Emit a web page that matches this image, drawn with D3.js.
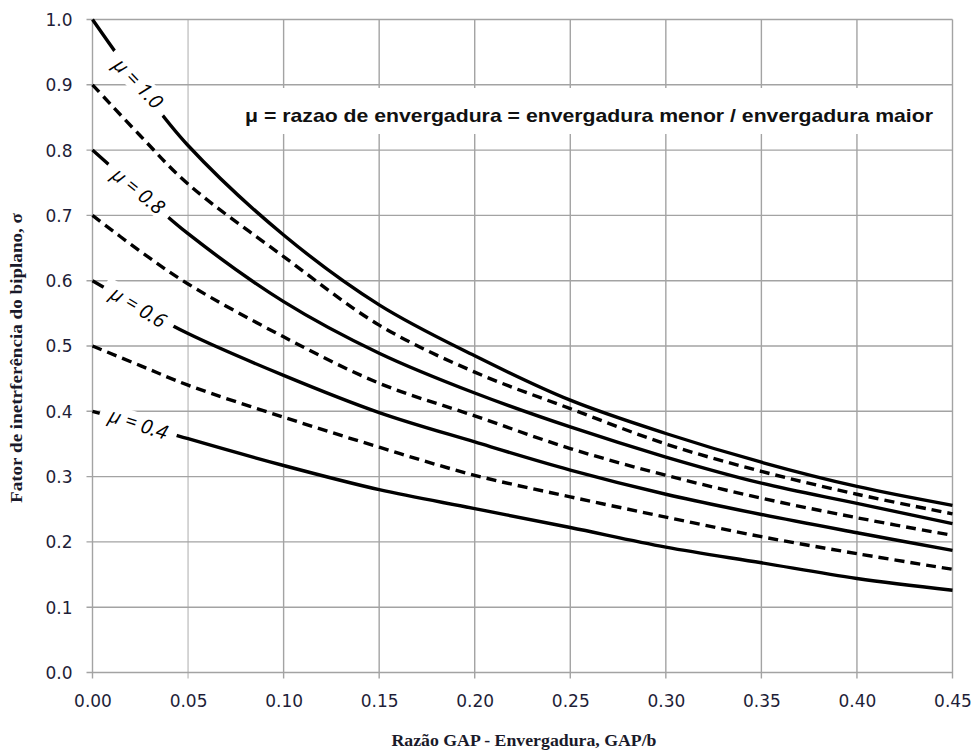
<!DOCTYPE html>
<html>
  <head>
    <meta charset="utf-8">
    <title>Fator de interferencia do biplano</title>
    <style>
      body { margin: 0; background: #fff; }
      svg { display: block; }
    </style>
  </head>
  <body>
    <div id="chart"></div>
    <script src="https://cdn.jsdelivr.net/npm/d3@7"></script>
    <script>

        // razao GAP/b (eixo x)
        var gapRatio = [0, 0.025, 0.05, 0.10, 0.15, 0.20, 0.25, 0.30, 0.35, 0.40, 0.45];

        // fator sigma, um array por mu
        var sigmaMu10 = [1.000, 0.898, 0.807, 0.670, 0.563, 0.485, 0.417, 0.366, 0.322, 0.285, 0.256];
        var sigmaMu09 = [0.900, 0.822, 0.748, 0.637, 0.532, 0.460, 0.404, 0.350, 0.308, 0.273, 0.243];
        var sigmaMu08 = [0.800, 0.735, 0.672, 0.568, 0.489, 0.428, 0.376, 0.330, 0.290, 0.259, 0.228];
        var sigmaMu07 = [0.700, 0.645, 0.595, 0.514, 0.443, 0.393, 0.343, 0.302, 0.267, 0.237, 0.210];
        var sigmaMu06 = [0.600, 0.558, 0.519, 0.455, 0.398, 0.353, 0.310, 0.273, 0.242, 0.214, 0.187];
        var sigmaMu05 = [0.500, 0.470, 0.440, 0.391, 0.345, 0.302, 0.269, 0.238, 0.208, 0.182, 0.158];
        var sigmaMu04 = [0.400, 0.380, 0.358, 0.317, 0.280, 0.251, 0.222, 0.192, 0.168, 0.144, 0.126];

        var muValues = ["1.0", "0.9", "0.8", "0.7", "0.6", "0.5", "0.4"];
        var labeledMu = ["1.0", "0.8", "0.6", "0.4"];

        var xTicks = [0, 0.05, 0.10, 0.15, 0.20, 0.25, 0.30, 0.35, 0.40, 0.45];
        var yTicks = [0, 0.1, 0.2, 0.3, 0.4, 0.5, 0.6, 0.7, 0.8, 0.9, 1.0];

        var xTitle = "Razão GAP - Envergadura, GAP/b";
        var yTitle = "Fator de inetrferência do biplano, σ";
        var noteText = "μ = razao de envergadura = envergadura menor / envergadura maior";

        var width = 977;
        var height = 751;
        var plotLeft = 92.5, plotRight = 952.5, plotTop = 19.5, plotBottom = 672.5;

        var allSigma = [sigmaMu10, sigmaMu09, sigmaMu08, sigmaMu07, sigmaMu06, sigmaMu05, sigmaMu04];
        var series = muValues.map(function(m, i) {
          return {
            mu: m,
            dashed: i % 2 === 1,
            points: gapRatio.map(function(g, j) { return [g, allSigma[i][j]]; })
          };
        });

        var svg = d3.select('#chart')
          .append('svg')
          .attr('width', width)
          .attr('height', height);

        var x = d3.scaleLinear().domain([0, 0.45]).range([plotLeft, plotRight]);
        var y = d3.scaleLinear().domain([0, 1.0]).range([plotBottom, plotTop]);

        var gridColor = '#a3a3a3';
        var tickColor = '#1e1e38';

        // grade
        var grid = svg.append('g');
        grid.selectAll('line.v')
          .data(xTicks)
          .enter().append('line')
          .attr('class', 'v')
          .attr('x1', function(d) { return x(d); })
          .attr('x2', function(d) { return x(d); })
          .attr('y1', plotTop).attr('y2', plotBottom + 6)
          .attr('stroke', function(d) { return d === 0.05 ? '#c4c4c4' : gridColor; })
          .attr('stroke-width', 1.4);
        grid.selectAll('line.h')
          .data(yTicks)
          .enter().append('line')
          .attr('class', 'h')
          .attr('y1', function(d) { return y(d); })
          .attr('y2', function(d) { return y(d); })
          .attr('x1', plotLeft - 6).attr('x2', plotRight)
          .attr('stroke', gridColor)
          .attr('stroke-width', 1.4);

        // rotulos dos eixos
        var xAxis = d3.axisBottom(x).tickValues(xTicks).tickFormat(d3.format('.2f')).tickSize(0).tickPadding(22);
        var gx = svg.append('g').attr('transform', 'translate(0,' + plotBottom + ')').call(xAxis);
        var yAxis = d3.axisLeft(y).tickValues(yTicks).tickFormat(d3.format('.1f')).tickSize(0).tickPadding(20);
        var gy = svg.append('g').attr('transform', 'translate(' + plotLeft + ',0)').call(yAxis);
        [gx, gy].forEach(function(g) {
          g.select('.domain').remove();
          g.selectAll('text')
            .attr('fill', tickColor)
            .style('font-family', 'DejaVu Sans, Verdana, sans-serif')
            .style('font-size', '17px');
        });
        gy.selectAll('text').attr('dy', '0.35em');

        // curvas
        var line = d3.line()
          .x(function(d) { return x(d[0]); })
          .y(function(d) { return y(d[1]); })
          .curve(d3.curveCatmullRom.alpha(0.5));

        svg.append('g').selectAll('path')
          .data(series)
          .enter().append('path')
          .attr('d', function(d) { return line(d.points); })
          .attr('fill', 'none')
          .attr('stroke', '#000')
          .attr('stroke-width', 3.4)
          .attr('stroke-dasharray', function(d) { return d.dashed ? '10,6' : null; });

        // rotulos mu sobre as curvas
        var labelAt = 0.024;
        var labelAngle = { "1.0": 46, "0.8": 39, "0.6": 31, "0.4": 18 };
        var labels = svg.append('g');
        series.filter(function(s) { return labeledMu.indexOf(s.mu) >= 0; }).forEach(function(s) {
          var xs = s.points.map(function(p) { return p[0]; });
          var ys = s.points.map(function(p) { return p[1]; });
          var i = d3.bisectLeft(xs, labelAt);
          var t = (labelAt - xs[i - 1]) / (xs[i] - xs[i - 1]);
          var v = ys[i - 1] + t * (ys[i] - ys[i - 1]);
          var g = labels.append('g')
            .attr('transform', 'translate(' + x(labelAt) + ',' + y(v) + ') rotate(' + labelAngle[s.mu] + ')');
          g.append('rect')
            .attr('x', -40).attr('y', -11)
            .attr('width', 80).attr('height', 21)
            .attr('fill', '#fff');
          g.append('text')
            .attr('text-anchor', 'middle')
            .attr('dy', '0.35em')
            .style('font-family', 'Open Sans, DejaVu Sans, sans-serif')
            .style('font-style', 'italic')
            .style('font-size', '20px')
            .text('μ = ' + s.mu);
        });

        // nota
        svg.append('rect')
          .attr('x', 237).attr('y', 88)
          .attr('width', 703).attr('height', 46)
          .attr('fill', '#fff');
        svg.append('text')
          .attr('x', 245).attr('y', 122)
          .attr('textLength', 688)
          .attr('lengthAdjust', 'spacingAndGlyphs')
          .style('font-family', 'Liberation Sans Narrow, Arial Narrow, Liberation Sans, sans-serif')
          .style('font-weight', 'bold')
          .style('font-size', '19px')
          .attr('fill', '#111')
          .text(noteText);

        // titulos
        svg.append('text')
          .attr('x', 524).attr('y', 746)
          .attr('text-anchor', 'middle')
          .attr('textLength', 265)
          .attr('lengthAdjust', 'spacingAndGlyphs')
          .style('font-family', 'Liberation Serif, Times New Roman, serif')
          .style('font-weight', 'bold')
          .style('font-size', '17px')
          .attr('fill', '#1a1a2a')
          .text(xTitle);
        svg.append('text')
          .attr('transform', 'translate(22,358) rotate(-90)')
          .attr('text-anchor', 'middle')
          .attr('textLength', 290)
          .attr('lengthAdjust', 'spacingAndGlyphs')
          .style('font-family', 'Liberation Serif, Times New Roman, serif')
          .style('font-weight', 'bold')
          .style('font-size', '17px')
          .attr('fill', '#1a1a2a')
          .text(yTitle);

    </script>
  </body>
</html>
